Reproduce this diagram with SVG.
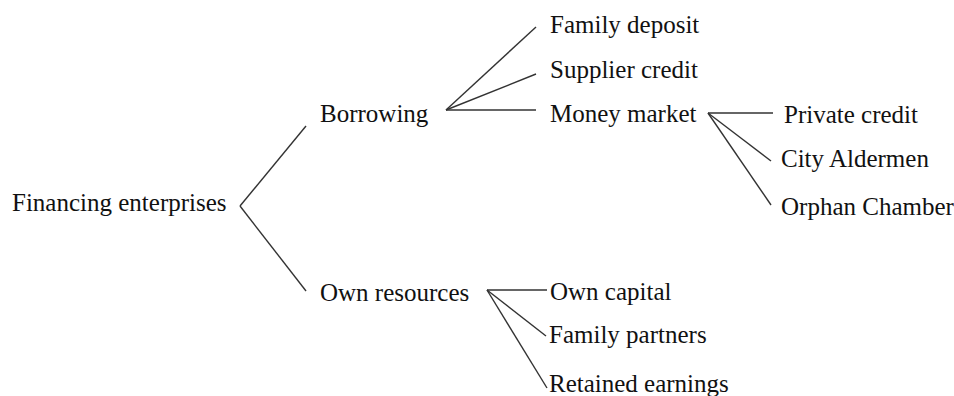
<svg xmlns="http://www.w3.org/2000/svg" width="954" height="396" viewBox="0 0 954 396">
<style>
.t{font-family:"Liberation Serif","Times New Roman",serif;font-size:25px;fill:#111}
.c line{stroke:#333;stroke-width:1.4}
</style>
<rect width="954" height="396" fill="#fff"/>
<g class="c" id="connectors">
<line x1="240" y1="206" x2="306" y2="126"/>
<line x1="240" y1="206" x2="306" y2="291"/>
<line x1="446" y1="110" x2="536" y2="27"/>
<line x1="446" y1="110" x2="536" y2="74"/>
<line x1="446" y1="110" x2="536" y2="110"/>
<line x1="708" y1="113" x2="773" y2="113"/>
<line x1="708" y1="113" x2="771" y2="161"/>
<line x1="708" y1="113" x2="771" y2="205"/>
<line x1="487" y1="290" x2="547" y2="290"/>
<line x1="487" y1="290" x2="546" y2="336"/>
<line x1="487" y1="290" x2="547" y2="388"/>
</g>
<g id="n-financing"><text class="t" x="12" y="211">Financing enterprises</text></g>
<g id="n-borrowing"><text class="t" x="320" y="122">Borrowing</text></g>
<g id="n-own"><text class="t" x="320" y="301">Own resources</text></g>
<g id="n-family-deposit"><text class="t" x="550" y="33">Family deposit</text></g>
<g id="n-supplier"><text class="t" x="550" y="78">Supplier credit</text></g>
<g id="n-money"><text class="t" x="550" y="122">Money market</text></g>
<g id="n-private"><text class="t" x="784" y="123">Private credit</text></g>
<g id="n-city"><text class="t" x="781" y="167">City Aldermen</text></g>
<g id="n-orphan"><text class="t" x="781" y="215">Orphan Chamber</text></g>
<g id="n-own-capital"><text class="t" x="550" y="300">Own capital</text></g>
<g id="n-family-partners"><text class="t" x="549" y="343">Family partners</text></g>
<g id="n-retained"><text class="t" x="549" y="392">Retained earnings</text></g>
</svg>
